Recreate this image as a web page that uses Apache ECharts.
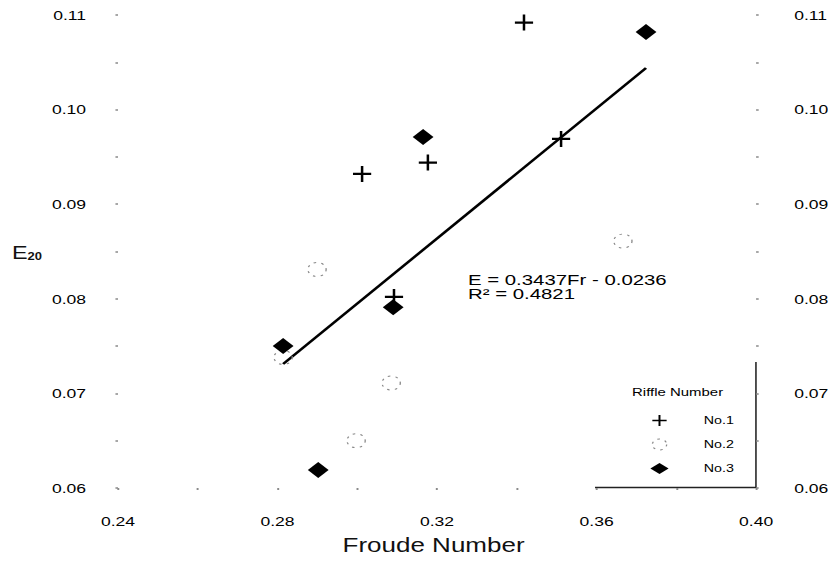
<!DOCTYPE html>
<html><head><meta charset="utf-8">
<script src="https://cdn.jsdelivr.net/npm/echarts@6.0.0/dist/echarts.min.js"></script>
<style>
html,body{margin:0;padding:0;overflow:hidden;background:#fff;width:828px;height:562px}
#wrap{width:637px;height:562px;transform:scaleX(1.3);transform-origin:0 0}
</style></head><body><div id="wrap"></div>
<script>
// ---- data ----
const seriesNames = ['No.1', 'No.2', 'No.3'];
const frNo1 = [0.3418, 0.3012, 0.3177, 0.3511, 0.3092];
const eNo1  = [0.1092, 0.0932, 0.0944, 0.0969, 0.0802];
const frNo2 = [0.2899, 0.2814, 0.3666, 0.3085, 0.2997];
const eNo2  = [0.0831, 0.0738, 0.0861, 0.0711, 0.0650];
const frNo3 = [0.3724, 0.3165, 0.3090, 0.2814, 0.2902];
const eNo3  = [0.1082, 0.0971, 0.0791, 0.0750, 0.0619];
const trendFr = [0.2814, 0.3724];
const trendE  = [0.0731, 0.1044];
const xTickLabels = ['0.24', '0.28', '0.32', '0.36', '0.40'];
const yTickLabels = ['0.06', '0.07', '0.08', '0.09', '0.10', '0.11'];
const equationText = 'E = 0.3437Fr - 0.0236\nR² = 0.4821';

const FONT = 'Liberation Sans, Arial, Helvetica, sans-serif';
const xMin = parseFloat(xTickLabels[0]), xMax = parseFloat(xTickLabels[xTickLabels.length - 1]);
const xStep = parseFloat(xTickLabels[1]) - xMin;
const yMin = parseFloat(yTickLabels[0]), yMax = parseFloat(yTickLabels[yTickLabels.length - 1]);
const yStep = parseFloat(yTickLabels[1]) - yMin;
const xLab = v => xTickLabels[Math.round((v - xMin) / xStep)] || '';
const yLab = v => yTickLabels[Math.round((v - yMin) / yStep)] || '';
const pairs = (a, b) => a.map((v, i) => [v, b[i]]);

const PLUS = 'path://M6.9,0H9.1V6.9H16V9.1H9.1V16H6.9V9.1H0V6.9H6.9Z';
const tickStyle = { show: true, length: 2, lineStyle: { color: '#8a8a8a', width: 1.5 } };

function yAxisDef(pos, margin) {
  return {
    type: 'value', position: pos, min: yMin, max: yMax, interval: yStep,
    axisLine: { show: false },
    axisTick: tickStyle,
    minorTick: Object.assign({ splitNumber: 2 }, tickStyle),
    splitLine: { show: false }, minorSplitLine: { show: false },
    axisLabel: { formatter: yLab, margin: margin, fontSize: 13.5, color: '#000', fontFamily: FONT }
  };
}

const chart = echarts.init(document.getElementById('wrap'), null, { renderer: 'svg' });
chart.setOption({
  animation: false,
  backgroundColor: '#fff',
  grid: { left: 90.8, right: 55.4, top: 15, bottom: 74, containLabel: false, outerBoundsMode: 'none' },
  xAxis: {
    type: 'value', min: xMin, max: xMax, interval: xStep,
    axisLine: { show: false },
    axisTick: tickStyle,
    minorTick: Object.assign({ splitNumber: 2 }, tickStyle),
    splitLine: { show: false }, minorSplitLine: { show: false },
    axisLabel: { formatter: xLab, margin: 26, fontSize: 13.5, color: '#000', fontFamily: FONT }
  },
  yAxis: [yAxisDef('left', 24.6), yAxisDef('right', 29.3)],
  legend: {
    orient: 'vertical', left: 495.3, top: 410,
    itemWidth: 14, itemHeight: 11, itemGap: 12.5,
    data: [
      { name: seriesNames[0], icon: PLUS, itemStyle: { color: '#000', opacity: 1 } },
      { name: seriesNames[1], icon: 'circle', itemStyle: { color: 'rgba(0,0,0,0)', borderColor: '#888', borderWidth: 1, borderType: [2, 4] } },
      { name: seriesNames[2], icon: 'diamond', itemStyle: { color: '#000', opacity: 1 } }
    ],
    textStyle: { fontSize: 11, color: '#000', fontFamily: FONT, padding: [0, 0, 0, 22] }
  },
  series: [
    {
      type: 'line', data: pairs(trendFr, trendE), symbol: 'none', silent: true,
      lineStyle: { color: '#000', width: 2.3 }, z: 1
    },
    {
      name: seriesNames[0], type: 'scatter', data: pairs(frNo1, eNo1),
      symbol: PLUS, symbolSize: [14, 16], symbolKeepAspect: false,
      itemStyle: { color: '#000', opacity: 1 }, z: 3
    },
    {
      name: seriesNames[1], type: 'scatter', data: pairs(frNo2, eNo2),
      symbol: 'circle', symbolSize: 14,
      itemStyle: { color: 'rgba(0,0,0,0)', borderColor: '#888', borderWidth: 1, borderType: [2, 4], opacity: 1 }, z: 2
    },
    {
      name: seriesNames[2], type: 'scatter', data: pairs(frNo3, eNo3),
      symbol: 'diamond', symbolSize: 16,
      itemStyle: { color: '#000', opacity: 1 }, z: 3
    }
  ],
  graphic: [
    { type: 'text', x: 333.5, y: 545, style: { text: 'Froude Number', font: '20px ' + FONT, fill: '#111', align: 'center', verticalAlign: 'middle' } },
    { type: 'text', x: 9.2, y: 253, style: {
        text: '{a|E}{b|20}', fill: '#111', verticalAlign: 'middle',
        rich: { a: { fontSize: 18, fontFamily: FONT, verticalAlign: 'bottom', lineHeight: 18 },
                b: { fontSize: 10, fontWeight: 'bold', fontFamily: FONT, verticalAlign: 'bottom', lineHeight: 14 } } } },
    { type: 'text', x: 360, y: 272.5, scaleX: 1.12, style: { text: equationText, font: '14px ' + FONT, lineHeight: 14.5, fill: '#000', verticalAlign: 'top' } },
    { type: 'text', x: 486.2, y: 392, style: { text: 'Riffle Number', font: '11.5px ' + FONT, fill: '#000', verticalAlign: 'middle' } },
    { type: 'line', shape: { x1: 581.5, y1: 362, x2: 581.5, y2: 488 }, style: { stroke: '#222', lineWidth: 1.2 } },
    { type: 'line', shape: { x1: 457.7, y1: 487.5, x2: 581.5, y2: 487.5 }, style: { stroke: '#222', lineWidth: 1.5 } }
  ]
});
</script></body></html>
